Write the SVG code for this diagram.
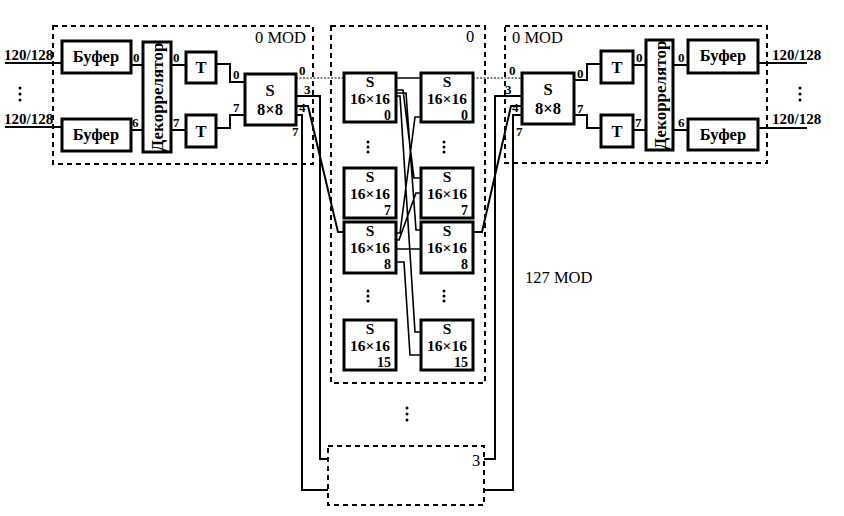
<svg xmlns="http://www.w3.org/2000/svg" width="844" height="516" viewBox="0 0 844 516">
<style>
.box{fill:#fff;stroke:#000;stroke-width:3}
.dash{fill:none;stroke:#000;stroke-width:2;stroke-dasharray:5 4}
.ln{fill:none;stroke:#000;stroke-width:2}
.xl{fill:none;stroke:#000;stroke-width:1.6}
.dl{fill:none;stroke:#000;stroke-width:1.2;stroke-dasharray:2 1.5}
text{font-family:"Liberation Serif","Times New Roman",serif;fill:#000}
.t15{font-size:16.5px;font-weight:bold}
.s{font-size:15.5px;font-weight:bold}
.sn{font-size:14px;font-weight:bold}
.dec{font-size:17px;font-weight:bold}
.t14{font-size:15px;font-weight:bold}
.n{font-size:13px;font-weight:bold}
.lbl{font-size:16.5px}
.c{text-anchor:middle}
.e{text-anchor:end}
</style>
<rect width="844" height="516" fill="#fff"/>
<g id="frames">
<rect class="dash" x="53" y="26" width="260" height="138"/>
<rect class="dash" x="505" y="26" width="262" height="137"/>
<rect class="dash" x="331" y="26" width="154" height="357"/>
<rect class="dash" x="328" y="446" width="156" height="59"/>
<text class="lbl" x="255" y="43">0 MOD</text>
<text class="lbl" x="512" y="43">0 MOD</text>
<text class="lbl" x="466" y="42">0</text>
<text class="lbl" x="525" y="283">127 MOD</text>
<text class="lbl" x="472" y="466">3</text>
</g>
<g id="connectors">
<path class="ln" d="M5,63H62M5,127H62M131,65H143M131,130H143M171,65H186M171,130H186M216,64H230V82H245M216,128H230V115H245"/>
<path class="dl" d="M296,78H344"/>
<path class="ln" d="M296,96H320V459H328M296,106H308L338,232H344M296,115H302V490H328"/>
<path class="dl" d="M473,78H522"/>
<path class="ln" d="M522,96H495V459H484M522,106H511L482,232H473M522,115H513V490H484"/>
<path class="ln" d="M574,80H587V64H601M574,115H587V128H601M633,65H646M633,130H646M673,65H688M673,130H688M758,63H807M758,128H807"/>
<path class="xl" d="M396,78H421M396,90H403L414,178H421M396,93H406L416,230H421M396,96H400L415,332H421M396,233H400L415,117H421M396,240H399L416,193H421M396,249H421M396,262H404L410,355H421"/>
<g class="n">
<text x="133" y="62">0</text><text x="132" y="127">6</text>
<text x="173" y="62">0</text><text x="173" y="127">7</text>
<text x="233" y="79">0</text><text x="233" y="112">7</text>
<text x="299" y="75">0</text><text x="304" y="94">3</text><text x="299" y="112">4</text><text x="292" y="136">7</text>
<text x="509" y="75">0</text><text x="505" y="94">3</text><text x="512" y="112">4</text><text x="516" y="136">7</text>
<text x="577" y="78">0</text><text x="577" y="113">7</text>
<text x="636" y="62">0</text><text x="635" y="127">7</text>
<text x="678" y="62">0</text><text x="678" y="127">6</text>
</g>
<g class="t14">
<text x="4" y="60">120/128</text><text x="4" y="124">120/128</text>
<text x="772" y="60">120/128</text><text x="772" y="124">120/128</text>
</g>
<g fill="#000">
<circle cx="20" cy="88" r="1.5"/><circle cx="20" cy="94" r="1.5"/><circle cx="20" cy="100" r="1.5"/>
<circle cx="800" cy="88" r="1.5"/><circle cx="800" cy="94" r="1.5"/><circle cx="800" cy="100" r="1.5"/>
<circle cx="368" cy="142" r="1.5"/><circle cx="368" cy="147" r="1.5"/><circle cx="368" cy="152" r="1.5"/>
<circle cx="444" cy="142" r="1.5"/><circle cx="444" cy="147" r="1.5"/><circle cx="444" cy="152" r="1.5"/>
<circle cx="368" cy="291" r="1.5"/><circle cx="368" cy="296" r="1.5"/><circle cx="368" cy="301" r="1.5"/>
<circle cx="444" cy="291" r="1.5"/><circle cx="444" cy="296" r="1.5"/><circle cx="444" cy="301" r="1.5"/>
<circle cx="407" cy="408" r="1.5"/><circle cx="407" cy="414" r="1.5"/><circle cx="407" cy="420" r="1.5"/>
</g>
</g>
<g id="buf-l0"><rect class="box" x="62" y="41" width="69" height="32"/><text class="t15 c" x="96" y="62">Буфер</text></g>
<g id="buf-l6"><rect class="box" x="62" y="119" width="69" height="32"/><text class="t15 c" x="96" y="140">Буфер</text></g>
<g id="dec-l"><rect class="box" x="143" y="42" width="28" height="110"/><text class="dec c" transform="translate(162.5,97) rotate(-90)">Декоррелятор</text></g>
<g id="t-l0"><rect class="box" x="186" y="52" width="30" height="31"/><text class="t15 c" x="201" y="73">T</text></g>
<g id="t-l7"><rect class="box" x="186" y="115" width="30" height="32"/><text class="t15 c" x="201" y="137">T</text></g>
<g id="s8-l"><rect class="box" x="245" y="74" width="51" height="51"/><text class="t15 c" x="270" y="96">S</text><text class="t15 c" x="270" y="115">8×8</text></g>
<g id="s16-a0"><rect class="box" x="344" y="73" width="52" height="49"/><text class="s c" x="370" y="86.5">S</text><text class="s c" x="370" y="104">16×16</text><text class="sn e" x="391" y="120">0</text></g>
<g id="s16-a7"><rect class="box" x="344" y="168" width="52" height="50"/><text class="s c" x="370" y="181.5">S</text><text class="s c" x="370" y="199">16×16</text><text class="sn e" x="391" y="215">7</text></g>
<g id="s16-a8"><rect class="box" x="344" y="222" width="52" height="51"/><text class="s c" x="370" y="235.5">S</text><text class="s c" x="370" y="253">16×16</text><text class="sn e" x="391" y="269">8</text></g>
<g id="s16-a15"><rect class="box" x="344" y="320" width="52" height="50"/><text class="s c" x="370" y="333.5">S</text><text class="s c" x="370" y="351">16×16</text><text class="sn e" x="391" y="367">15</text></g>
<g id="s16-b0"><rect class="box" x="421" y="73" width="52" height="49"/><text class="s c" x="447" y="86.5">S</text><text class="s c" x="447" y="104">16×16</text><text class="sn e" x="468" y="120">0</text></g>
<g id="s16-b7"><rect class="box" x="421" y="168" width="52" height="50"/><text class="s c" x="447" y="181.5">S</text><text class="s c" x="447" y="199">16×16</text><text class="sn e" x="468" y="215">7</text></g>
<g id="s16-b8"><rect class="box" x="421" y="222" width="52" height="51"/><text class="s c" x="447" y="235.5">S</text><text class="s c" x="447" y="253">16×16</text><text class="sn e" x="468" y="269">8</text></g>
<g id="s16-b15"><rect class="box" x="421" y="320" width="52" height="50"/><text class="s c" x="447" y="333.5">S</text><text class="s c" x="447" y="351">16×16</text><text class="sn e" x="468" y="367">15</text></g>
<g id="s8-r"><rect class="box" x="522" y="73" width="52" height="51"/><text class="t15 c" x="548" y="95">S</text><text class="t15 c" x="548" y="114">8×8</text></g>
<g id="t-r0"><rect class="box" x="601" y="51" width="32" height="32"/><text class="t15 c" x="617" y="73">T</text></g>
<g id="t-r7"><rect class="box" x="601" y="115" width="32" height="32"/><text class="t15 c" x="617" y="137">T</text></g>
<g id="dec-r"><rect class="box" x="646" y="40" width="27" height="110"/><text class="dec c" transform="translate(665.5,95) rotate(-90)">Декоррелятор</text></g>
<g id="buf-r0"><rect class="box" x="688" y="40" width="70" height="33"/><text class="t15 c" x="723" y="61">Буфер</text></g>
<g id="buf-r6"><rect class="box" x="688" y="119" width="70" height="31"/><text class="t15 c" x="723" y="140">Буфер</text></g>
</svg>
